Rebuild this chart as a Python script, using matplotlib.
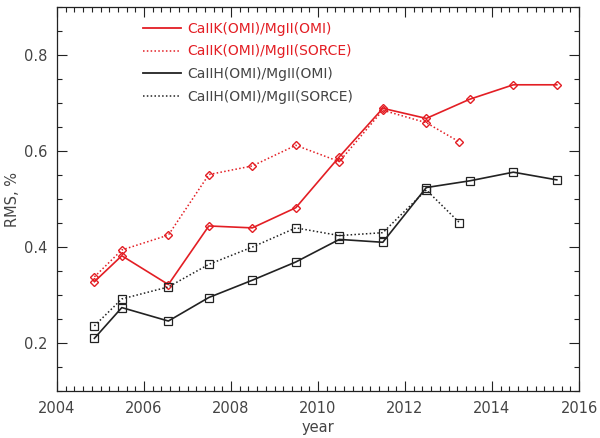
import matplotlib
matplotlib.use("Agg")
import matplotlib.pyplot as plt
from matplotlib.lines import Line2D
from matplotlib.ticker import MultipleLocator

plt.rcParams['font.family'] = ['DejaVu Sans']

# data
years_full = [2004.86, 2005.49, 2006.56, 2007.49, 2008.49, 2009.49, 2010.49,
              2011.49, 2012.49, 2013.49, 2014.49, 2015.49]
years_sorce = [2004.86, 2005.49, 2006.56, 2007.49, 2008.49, 2009.49, 2010.49,
               2011.49, 2012.49, 2013.25]

k_omi = [0.328, 0.382, 0.322, 0.444, 0.440, 0.482, 0.588, 0.689, 0.668, 0.708, 0.738, 0.738]
k_sorce = [0.338, 0.394, 0.425, 0.551, 0.569, 0.612, 0.578, 0.685, 0.659, 0.619]
h_omi = [0.210, 0.274, 0.246, 0.295, 0.331, 0.369, 0.416, 0.410, 0.524, 0.538, 0.556, 0.540]
h_sorce = [0.236, 0.292, 0.317, 0.364, 0.400, 0.440, 0.424, 0.430, 0.519, 0.451]

labels = ['CaIIK(OMI)/MgII(OMI)', 'CaIIK(OMI)/MgII(SORCE)',
          'CaIIH(OMI)/MgII(OMI)', 'CaIIH(OMI)/MgII(SORCE)']

RED = '#e31e24'
BLK = '#222222'
TXT = '#444444'

fig = plt.figure(figsize=(6.0, 4.38), dpi=100)
ax = fig.add_axes([0.095, 0.107, 0.870, 0.877])

ax.plot(years_sorce, k_sorce, color=RED, ls=(0, (1, 1.5)), lw=1.1,
        marker='D', ms=4.5, mfc='none', mec=RED, mew=1.0)
ax.plot(years_full, k_omi, color=RED, ls='-', lw=1.2,
        marker='D', ms=4.5, mfc='none', mec=RED, mew=1.0)
ax.plot(years_sorce, h_sorce, color=BLK, ls=(0, (1, 1.5)), lw=1.1,
        marker='s', ms=5.6, mfc='none', mec=BLK, mew=0.9)
ax.plot(years_full, h_omi, color=BLK, ls='-', lw=1.2,
        marker='s', ms=5.6, mfc='none', mec=BLK, mew=0.9)

ax.set_xlim(2004, 2016)
ax.set_ylim(0.1, 0.9)
ax.xaxis.set_major_locator(MultipleLocator(2))
ax.xaxis.set_minor_locator(MultipleLocator(0.2))
ax.yaxis.set_minor_locator(MultipleLocator(0.05))
ax.set_yticks([0.2, 0.4, 0.6, 0.8])
ax.tick_params(which='both', direction='in', top=True, right=True,
               colors=BLK, labelcolor=TXT, labelsize=10.5, width=0.8)
ax.tick_params(which='major', length=7, pad=7)
ax.tick_params(which='minor', length=3.5)
for s in ax.spines.values():
    s.set_linewidth(0.9)
    s.set_color(BLK)

ax.set_xlabel('year', color=TXT, fontsize=10.5, labelpad=3)
ax.set_ylabel('RMS, %', color=TXT, fontsize=10.5, labelpad=3)

handles = [Line2D([], [], color=RED, lw=1.3),
           Line2D([], [], color=RED, lw=1.1, ls=(0, (1, 1.5))),
           Line2D([], [], color=BLK, lw=1.3),
           Line2D([], [], color=BLK, lw=1.1, ls=(0, (1, 1.5)))]
leg = ax.legend(handles, labels, loc='upper left', bbox_to_anchor=(0.155, 0.976),
                frameon=False, fontsize=10, handlelength=2.7, handletextpad=0.45,
                labelspacing=0.62, borderaxespad=0)
for t, c in zip(leg.get_texts(), [RED, RED, TXT, TXT]):
    t.set_color(c)

fig.savefig('out.png', dpi=100)
